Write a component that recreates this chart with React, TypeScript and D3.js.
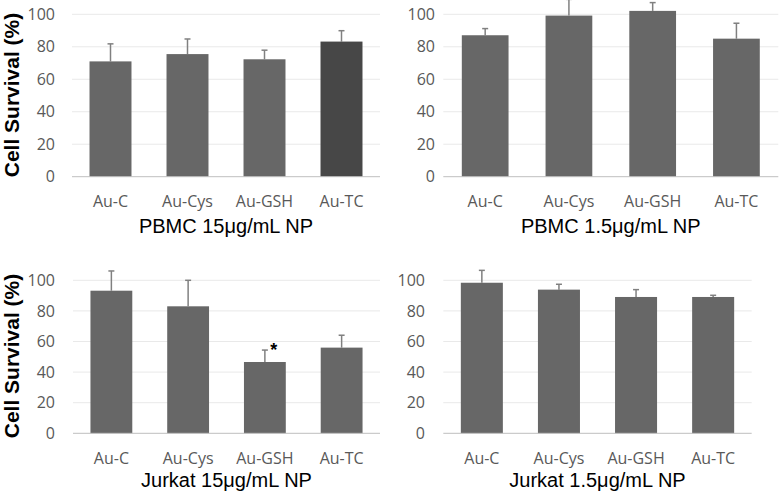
import React from "react";
import * as d3 from "d3";

const categories = ["Au-C", "Au-Cys", "Au-GSH", "Au-TC"];
const yTicks = [0, 20, 40, 60, 80, 100];

const pbmc15Values = [71, 75.5, 72.3, 83.2];
const pbmc15Errors = [10.8, 9.3, 5.6, 6.7];
const pbmc15Highlight = [false, false, false, true];

const pbmc1_5Values = [87.1, 99.2, 102.1, 85];
const pbmc1_5Errors = [4.1, 10, 5.1, 9.5];

const jurkat15Values = [93.2, 83, 46.6, 56];
const jurkat15Errors = [12.9, 17, 7.8, 8.1];
const jurkat15Stars = ["", "", "*", ""];

const jurkat1_5Values = [98.4, 93.9, 89.1, 89.1];
const jurkat1_5Errors = [8.1, 3.5, 4.8, 1.1];

const titles = [
  "PBMC 15\u03bcg/mL NP",
  "PBMC 1.5\u03bcg/mL NP",
  "Jurkat 15\u03bcg/mL NP",
  "Jurkat 1.5\u03bcg/mL NP",
];

type PanelProps = {
  title: string;
  values: number[];
  errors: number[];
  highlight?: boolean[];
  stars?: string[];
  x0: number;
  x1: number;
  yBottom: number;
  yTop: number;
  pad: number;
  tickRight: number;
  catY: number;
  titleY: number;
};

function Panel(p: PanelProps) {
  const x = d3
    .scaleBand<string>()
    .domain(categories)
    .range([p.x0, p.x1])
    .paddingInner(p.pad)
    .paddingOuter(p.pad / 2);
  const y = d3.scaleLinear().domain([0, 100]).range([p.yBottom, p.yTop]);
  const bw = x.bandwidth();
  const titleX = (p.x0 + p.x1) / 2;
  return (
    <g>
      {yTicks
        .filter((t) => t > 0)
        .map((t) => (
          <line
            key={"g" + t}
            x1={p.x0}
            x2={p.x1}
            y1={y(t)}
            y2={y(t)}
            stroke="#e9e9e9"
            strokeWidth={1}
          />
        ))}
      {yTicks.map((t) => (
        <text
          key={"t" + t}
          x={p.tickRight}
          y={y(t)}
          dy="0.35em"
          textAnchor="end"
          fontFamily="'Open Sans', sans-serif"
          fontSize={16}
          fill="#595959"
        >
          {t}
        </text>
      ))}
      {categories.map((c, i) => {
        const cx = (x(c) as number) + bw / 2;
        const v = p.values[i];
        const e = p.errors[i];
        return (
          <g key={c}>
            <line x1={cx} x2={cx} y1={y(v)} y2={y(v + e)} stroke="#808080" strokeWidth={1.5} />
            <line x1={cx - 3} x2={cx + 3} y1={y(v + e)} y2={y(v + e)} stroke="#808080" strokeWidth={1.5} />
            <rect
              x={x(c)}
              y={y(v)}
              width={bw}
              height={y(0) - y(v)}
              fill={p.highlight && p.highlight[i] ? "#474747" : "#676767"}
            />
            {p.stars && p.stars[i] ? (
              <text
                x={cx + 9}
                y={y(v + e) + 6}
                textAnchor="middle"
                fontFamily="'Liberation Sans', Arial, sans-serif"
                fontWeight="bold"
                fontSize={18}
                fill="#000"
              >
                {p.stars[i]}
              </text>
            ) : null}
            <text
              x={cx}
              y={p.catY}
              dy="0.35em"
              textAnchor="middle"
              fontFamily="'Open Sans', sans-serif"
              fontSize={16}
              fill="#595959"
            >
              {c}
            </text>
          </g>
        );
      })}
      <line x1={p.x0} x2={p.x1} y1={y(0)} y2={y(0)} stroke="#bfbfbf" strokeWidth={1} />
      <text
        x={titleX}
        y={p.titleY}
        dy="0.35em"
        textAnchor="middle"
        fontFamily="'Liberation Sans', Arial, sans-serif"
        fontSize={20}
        fill="#000"
      >
        {p.title}
      </text>
    </g>
  );
}

export default function App() {
  return (
    <svg
      width={780}
      height={493}
      style={{ position: "absolute", left: 0, top: 0, background: "#fff" }}
    >
      <rect x={0} y={0} width={780} height={493} fill="#fff" />
      <Panel
        title={titles[0]}
        values={pbmc15Values}
        errors={pbmc15Errors}
        highlight={pbmc15Highlight}
        x0={72}
        x1={380}
        yBottom={176.7}
        yTop={14.3}
        pad={0.455}
        tickRight={55}
        catY={201.7}
        titleY={226}
      />
      <Panel
        title={titles[1]}
        values={pbmc1_5Values}
        errors={pbmc1_5Errors}
        x0={443.3}
        x1={778.3}
        yBottom={176.7}
        yTop={14.3}
        pad={0.442}
        tickRight={435}
        catY={201.7}
        titleY={226}
      />
      <Panel
        title={titles[2]}
        values={jurkat15Values}
        errors={jurkat15Errors}
        stars={jurkat15Stars}
        x0={73}
        x1={380}
        yBottom={433.3}
        yTop={280.3}
        pad={0.455}
        tickRight={55}
        catY={458.3}
        titleY={480}
      />
      <Panel
        title={titles[3]}
        values={jurkat1_5Values}
        errors={jurkat1_5Errors}
        x0={443.3}
        x1={751.7}
        yBottom={433.3}
        yTop={280.3}
        pad={0.455}
        tickRight={425}
        catY={458.3}
        titleY={480}
      />
      <text
        transform="translate(19,95) rotate(-90)"
        textAnchor="middle"
        fontFamily="'Liberation Sans', Arial, sans-serif"
        fontWeight="bold"
        fontSize={21}
        fill="#000"
      >
        Cell Survival (%)
      </text>
      <text
        transform="translate(19,356) rotate(-90)"
        textAnchor="middle"
        fontFamily="'Liberation Sans', Arial, sans-serif"
        fontWeight="bold"
        fontSize={21}
        fill="#000"
      >
        Cell Survival (%)
      </text>
    </svg>
  );
}
